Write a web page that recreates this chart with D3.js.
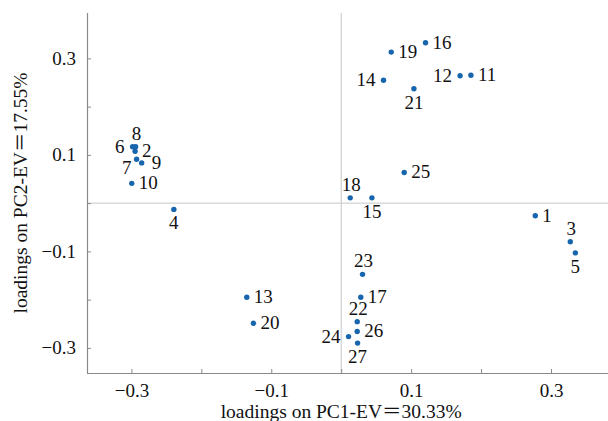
<!DOCTYPE html>
<html>
<head>
<meta charset="utf-8">
<script src="https://cdn.jsdelivr.net/npm/d3@7"></script>
<style>
  html, body { margin: 0; padding: 0; background: #fff; }
  svg { display: block; }
  text { font-family: "Liberation Serif", "Times New Roman", "Noto Sans CJK SC", serif; fill: #111; }
</style>
</head>
<body>
<svg id="chart" width="608" height="421"></svg>
<script>
// ---- data ----
const labels = ["1","2","3","4","5","6","7","8","9","10","11","12","13","14","15","16","17","18","19","20","21","22","23","24","25","26","27"];
const pc1 = [0.2775,-0.2947,0.3276,-0.2393,0.3348,-0.2983,-0.2926,-0.2940,-0.2853,-0.2995,0.1855,0.1700,-0.1350,0.0605,0.0439,0.1206,0.0280,0.0129,0.0715,-0.1255,0.1040,0.0229,0.0305,0.0105,0.0901,0.0229,0.0234];
const pc2 = [-0.026,0.1076,-0.080,-0.013,-0.103,0.1169,0.0910,0.1169,0.0834,0.041,0.265,0.264,-0.195,0.2545,0.011,0.3325,-0.195,0.011,0.313,-0.249,0.237,-0.2456,-0.1476,-0.2766,0.0635,-0.266,-0.290];
const placement = ["right","right","above","below","below","left","belowleft","above","farright","right","right","left","right","left","below","right","right","above","right","right","below","above","above","left","right","right","below"];
const tickValues = [-0.3,-0.2,-0.1,0,0.1,0.2,0.3];
const labeledTicks = [-0.3,-0.1,0.1,0.3];
const xTitle = "loadings on PC1-EV\uFF1D30.33%";
const yTitle = "loadings on PC2-EV\uFF1D17.55%";

// ---- layout ----
const W = 608, H = 421;
const m = {top: 13, right: 0, bottom: 48, left: 87};
const svg = d3.select("#chart");

const x = d3.scaleLinear().domain([-0.3635, 0.3815]).range([m.left, W - m.right]);
const y = d3.scaleLinear().domain([-0.352, 0.394]).range([H - m.bottom, m.top]);

const axisColor = "#8a8a8a";
const crossColor = "#c6c6c6";
const dotColor = "#1766ad";
const fmt = v => labeledTicks.some(t => Math.abs(t - v) < 1e-9) ? d3.format(".1f")(v) : "";

// cross lines at zero
svg.append("line")
  .attr("x1", x(0)).attr("x2", x(0))
  .attr("y1", m.top).attr("y2", H - m.bottom)
  .attr("stroke", crossColor).attr("stroke-width", 1);
svg.append("line")
  .attr("x1", m.left).attr("x2", W)
  .attr("y1", y(0)).attr("y2", y(0))
  .attr("stroke", crossColor).attr("stroke-width", 1);

// axes
const xAxis = d3.axisBottom(x).tickValues(tickValues).tickFormat(fmt).tickSizeInner(-4).tickSizeOuter(0).tickPadding(11);
const yAxis = d3.axisLeft(y).tickValues(tickValues).tickFormat(fmt).tickSizeInner(-4).tickSizeOuter(0).tickPadding(11);

const gx = svg.append("g").attr("transform", `translate(0,${H - m.bottom})`).call(xAxis);
const gy = svg.append("g").attr("transform", `translate(${m.left},0)`).call(yAxis);
[gx, gy].forEach(g => {
  g.select(".domain").attr("stroke", axisColor).attr("stroke-width", 1.2);
  g.selectAll(".tick line").attr("stroke", axisColor);
  g.selectAll(".tick text")
    .attr("font-family", "Liberation Serif, serif")
    .attr("font-size", 19).attr("fill", "#111");
});
gx.select(".domain").attr("d", `M${m.left},0.5H${W}`);
gy.select(".domain").attr("d", `M0.5,${m.top}V${H - m.bottom}`);

// titles
svg.append("text")
  .attr("x", x(0)).attr("y", 418)
  .attr("text-anchor", "middle")
  .attr("font-size", 19.5)
  .text(xTitle);
svg.append("text")
  .attr("transform", `translate(27,${(m.top + H - m.bottom) / 2}) rotate(-90)`)
  .attr("text-anchor", "middle")
  .attr("font-size", 19.5)
  .text(yTitle);

// points
const data = labels.map((l, i) => ({label: l, px: pc1[i], py: pc2[i], pos: placement[i]}));
svg.append("g").selectAll("circle").data(data).join("circle")
  .attr("cx", d => x(d.px)).attr("cy", d => y(d.py))
  .attr("r", 2.7).attr("fill", dotColor);

const off = {
  right:     {dx: 7,  dy: 6,   anchor: "start"},
  farright:  {dx: 10, dy: 6.5, anchor: "start"},
  left:      {dx: -8, dy: 6,   anchor: "end"},
  above:     {dx: 1,  dy: -7,  anchor: "middle"},
  below:     {dx: 0,  dy: 20,  anchor: "middle"},
  belowleft: {dx: -5, dy: 15,  anchor: "end"}
};
svg.append("g").selectAll("text").data(data).join("text")
  .attr("x", d => x(d.px) + off[d.pos].dx)
  .attr("y", d => y(d.py) + off[d.pos].dy)
  .attr("text-anchor", d => off[d.pos].anchor)
  .attr("font-size", 19)
  .text(d => d.label);
</script>
</body>
</html>
